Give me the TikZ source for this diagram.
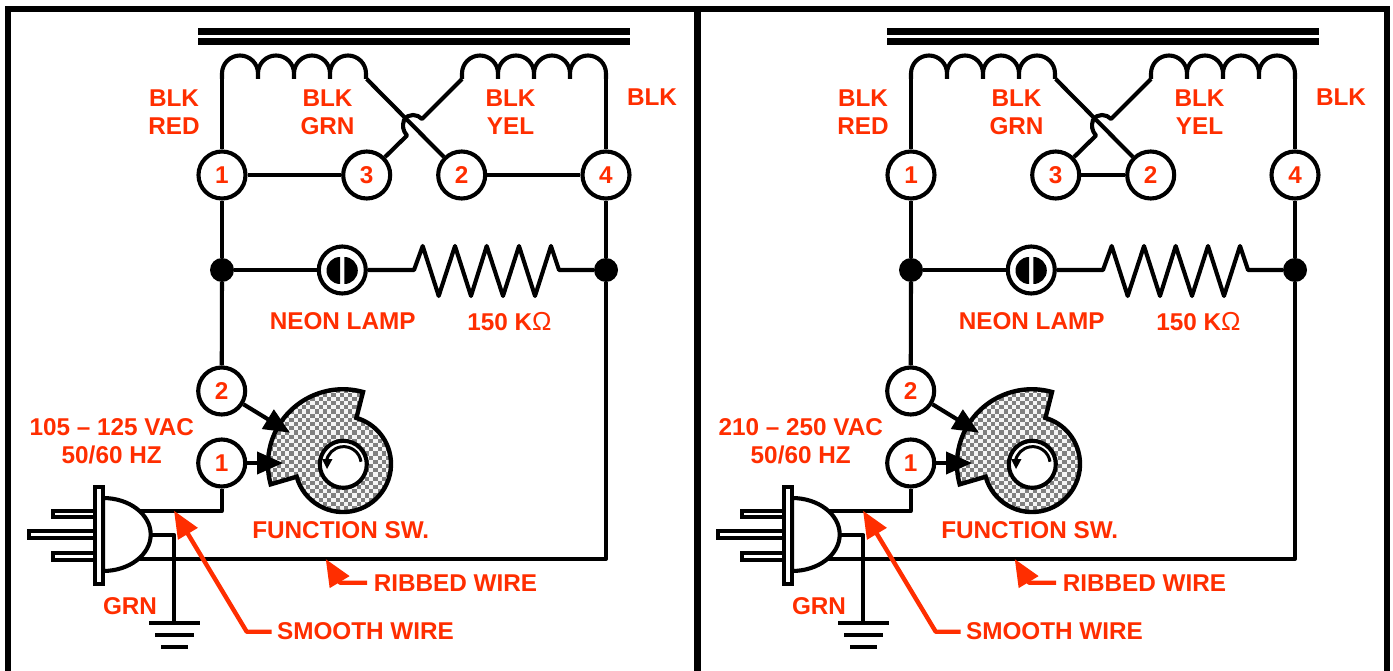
\documentclass[tikz,border=0pt]{standalone}
\usepackage{fontspec}
\setmainfont{Liberation Sans}
\usetikzlibrary{arrows.meta}
\definecolor{lab}{HTML}{FF2E00}
\tikzset{
  wire/.style={line width=4.1pt,line join=round},
  terminal/.style={circle,draw,fill=white,line width=4.1pt,minimum size=47pt,inner sep=0pt,text=lab,font=\fontsize{24.3}{27}\selectfont\bfseries},
  junction/.style={circle,fill=black,minimum size=24pt,inner sep=0pt},
  lbl/.style={text=lab,inner sep=0pt,align=center,font=\fontsize{24.3}{27.8}\selectfont\bfseries},
  blackarrow/.style={line width=4.1pt,-{Triangle[length=26pt,width=22pt]}},
  redarrow/.style={draw=lab,line width=4.4pt,line join=round,-{Triangle[length=27pt,width=22pt]}},
}
\newcommand{\swpath}{(363,392) arc[start angle=74.5,end angle=195.5,radius=75pt] -- (296.7,476.7) arc[start angle=195.3,end angle=433.8,radius=48pt] -- cycle}
\newcommand{\coilhump}[1]{(#1,79) -- (#1,73.5) arc[start angle=180,end angle=0,radius=18pt] -- +(0,5.5)}
\newcommand{\panel}[4]{%
\begin{scope}[xshift=#2]
  % core
  \draw[line width=6.6pt] (198,31.3) -- (630,31.3);
  \draw[line width=6.6pt] (198,41.3) -- (630,41.3);
  % terminals and parts
  \node[terminal] (#1n1) at (222,175) {1};
  \node[terminal] (#1n3) at (366.7,175) {3};
  \node[terminal] (#1n2) at (461.7,175) {2};
  \node[terminal] (#1n4) at (606,175) {4};
  \node[terminal] (#1s2) at (221.7,391) {2};
  \node[terminal] (#1s1) at (221.7,463) {1};
  \node[junction] (#1d1) at (222,270) {};
  \node[junction] (#1d2) at (606,270) {};
  \node[terminal] (#1lamp) at (342.3,270) {};
  % coils
  \coordinate (#1la) at (222,79);
  \coordinate (#1lb) at (366.7,79);
  \coordinate (#1ra) at (462,79);
  \coordinate (#1rb) at (606,79);
  \draw[wire] (#1n1) -- (#1la);
  \draw[wire] (#1n4) -- (#1rb);
  \draw[wire] \coilhump{222} \coilhump{258} \coilhump{294} \coilhump{330};
  \draw[wire] \coilhump{462} \coilhump{498} \coilhump{534} \coilhump{570};
  % crossing leads
  \draw[wire] (#1n3) -- (407,135.5) .. controls (403,131) and (402,126) .. (404,120) .. controls (408,113) and (418,114) .. (422,119) -- (#1ra);
  \draw[wire] (#1lb) -- (#1n2);
  #4
  % verticals
  \draw[wire] (#1n1) -- (#1d1);
  \draw[wire] (#1d1) -- (#1s2);
  \draw[wire] (#1n4) -- (#1d2);
  % lamp and resistor
  \draw[wire] (#1d1) -- (#1lamp);
  \fill (340,257) arc[start angle=90,end angle=270,x radius=13.5pt,y radius=13.5pt] -- cycle;
  \fill (344.3,257) arc[start angle=90,end angle=-90,x radius=13.5pt,y radius=13.5pt] -- cycle;
  \coordinate (#1ra1) at (414,270);
  \coordinate (#1ra2) at (559,270);
  \draw[wire] (#1lamp) -- (#1ra1) -- (422.7,246) -- (438.7,296) -- (455,246) -- (471,296) -- (486.7,246) -- (503,296) -- (519,246) -- (535,296) -- (551,246) -- (#1ra2) -- (#1d2);
  % lower wiring
  \coordinate (#1sw) at (130,511);
  \coordinate (#1rib) at (130,559);
  \coordinate (#1gw) at (150,535);
  \coordinate (#1gb) at (174.3,623);
  \draw[wire] (#1sw) -| (#1s1);
  \draw[wire] (#1rib) -| (#1d2);
  \draw[wire] (#1gw) -| (#1gb);
  \draw[line width=4pt] (149,623) -- (200,623);
  \draw[line width=4pt] (155,635) -- (194,635);
  \draw[line width=4pt] (161,647.3) -- (187.7,647.3);
  % plug
  \draw[line width=3.8pt,fill=white] (53.3,510.7) rectangle (95,517.3);
  \draw[line width=3.8pt,fill=white] (29,530.7) rectangle (95,538.3);
  \draw[line width=3.8pt,fill=white] (53.3,552.7) rectangle (95,560);
  \draw[wire,fill=white] (103,498) arc[start angle=90,end angle=-90,x radius=47.7pt,y radius=36.5pt] -- cycle;
  \draw[line width=4pt,fill=white] (95,486.7) rectangle (103.3,584);
  % switch
  \begin{scope}
    \clip \swpath;
    \fill[gray!8] (260,380) rectangle (400,520);
    \foreach \ci in {0,...,34}{\foreach \cj in {0,...,34}{%
      \pgfmathtruncatemacro\cpar{mod(\ci+\cj,2)}%
      \ifnum\cpar=0 \fill[black!50] ({260+\ci*4.2},{380+\cj*4.2}) rectangle +(4.2,4.2);\fi}}
  \end{scope}
  \draw[line width=4.4pt,line join=miter] \swpath;
  \node[terminal] (#1hub) at (343.3,464.3) {};
  \draw[line width=3pt] (361,461.7) arc[start angle=8,end angle=172,radius=17.5pt];
  \fill (322,459) -- (332.5,459) -- (327,469) -- cycle;
  \coordinate (#1t2) at (290,432.7);
  \coordinate (#1t1) at (283,463);
  \draw[blackarrow] (#1s2) -- (#1t2);
  \draw[blackarrow] (#1s1) -- (#1t1);
  % labels
  \node[lbl] (#1l1) at (174,112) {BLK\\[0.3pt]RED};
  \node[lbl] (#1l2) at (327.5,112) {BLK\\[0.3pt]GRN};
  \node[lbl] (#1l3) at (510.5,112) {BLK\\[0.3pt]YEL};
  \node[lbl] (#1l4) at (652,97.5) {BLK};
  \node[lbl] (#1l5) at (342.7,320.7) {NEON LAMP};
  \node[lbl] (#1l6) at (509.5,321.5) {150 K{\mdseries\fontsize{26}{27}\selectfont Ω}};
  \node[lbl] (#1l7) at (111.7,441.7) {#3\\[0.3pt]50/60 HZ};
  \node[lbl] (#1l8) at (340.7,530.5) {FUNCTION SW.};
  \node[lbl] (#1l9) at (130,606) {GRN};
  \node[lbl] (#1l10) at (455.5,583.5) {RIBBED WIRE};
  \node[lbl] (#1l11) at (365.5,631.5) {SMOOTH WIRE};
  % red pointers
  \coordinate (#1pa) at (271.7,631.7);
  \coordinate (#1pb) at (246.7,631.7);
  \coordinate (#1pc) at (174,510.7);
  \coordinate (#1pd) at (367,582.7);
  \coordinate (#1pe) at (340,582.7);
  \coordinate (#1pf) at (325.7,559);
  \draw[redarrow] (#1pa) -- (#1pb) -- (#1pc);
  \draw[redarrow] (#1pd) -- (#1pe) -- (#1pf);
\end{scope}}
\begin{document}
\begin{tikzpicture}[x=1pt,y=-1pt]
  \useasboundingbox (0,0) rectangle (1393,671);
  \fill[white] (0,0) rectangle (1393,671);
  \coordinate (fa) at (8,671);
  \coordinate (fb) at (8,9);
  \coordinate (fc) at (1387,9);
  \coordinate (fd) at (1387,671);
  \coordinate (fe) at (697.5,9);
  \coordinate (ff) at (697.5,671);
  \draw[line width=6pt,line join=miter] (fa) -- (fb) -- (fc) -- (fd);
  \draw[line width=7pt] (fe) -- (ff);
  \panel{a}{0pt}{105 – 125 VAC}{\draw[wire] (an1) -- (an3); \draw[wire] (an2) -- (an4);}
  \panel{b}{689pt}{210 – 250 VAC}{\draw[wire] (bn3) -- (bn2);}
\end{tikzpicture}
\end{document}
